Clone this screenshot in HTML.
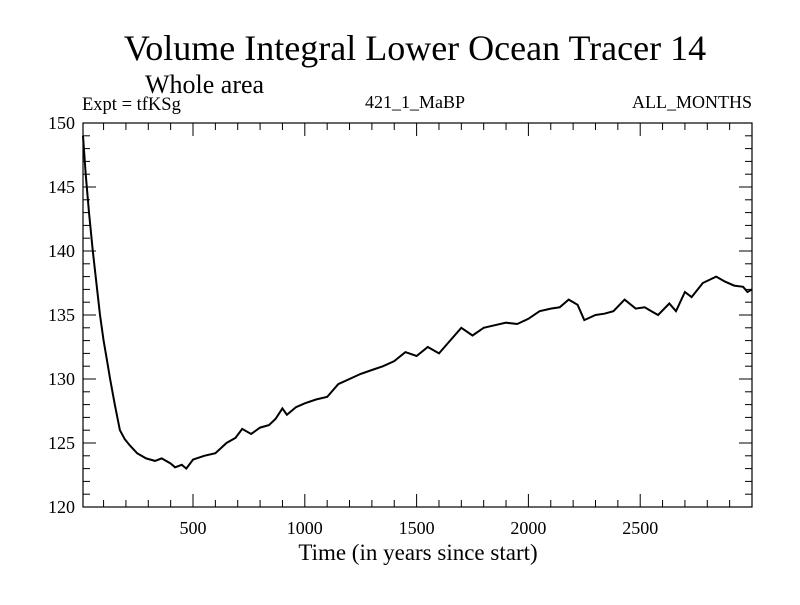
<!DOCTYPE html>
<html><head><meta charset="utf-8"><style>
body{margin:0;background:#fff}
svg text{font-family:"Liberation Serif",serif;fill:#000}
</style></head><body>
<svg id="chart" width="800" height="600">
<text x="415" y="60" font-size="36" text-anchor="middle">Volume Integral Lower Ocean Tracer 14</text>
<text x="145" y="93" font-size="26">Whole area</text>
<text x="82" y="110" font-size="18.5">Expt = tfKSg</text>
<text x="415" y="108" font-size="18" text-anchor="middle">421_1_MaBP</text>
<text x="752" y="108" font-size="18" text-anchor="end">ALL_MONTHS</text>
<text x="418" y="560" font-size="23" text-anchor="middle">Time (in years since start)</text>
<g id="axes"></g>
<rect x="83" y="123" width="669" height="384" fill="none" stroke="#000" stroke-width="1.2"/>
<path id="line" fill="none" stroke="#000" stroke-width="2"/>
</svg>
<script>
const years=[8,20,35,52,68,84,100,115,129,150,173,195,218,250,290,330,360,400,420,450,470,500,550,600,650,690,720,760,800,840,870,900,920,960,1000,1050,1100,1150,1200,1250,1300,1350,1400,1450,1500,1550,1600,1650,1700,1750,1800,1850,1900,1950,2000,2050,2100,2140,2180,2220,2250,2300,2340,2380,2430,2480,2520,2550,2580,2630,2660,2700,2730,2780,2840,2880,2920,2960,2980,3000];
const values=[149,146,143,140,137.5,135,133,131.5,130,128,126,125.3,124.8,124.2,123.8,123.6,123.8,123.4,123.1,123.3,123.0,123.7,124,124.2,125,125.4,126.1,125.7,126.2,126.4,126.9,127.7,127.2,127.8,128.1,128.4,128.6,129.6,130,130.4,130.7,131,131.4,132.1,131.8,132.5,132,133,134,133.4,134,134.2,134.4,134.3,134.7,135.3,135.5,135.6,136.2,135.8,134.6,135,135.1,135.3,136.2,135.5,135.6,135.3,135,135.9,135.3,136.8,136.4,137.5,138,137.6,137.3,137.2,136.8,137];
const xTicks=[500,1000,1500,2000,2500];
const yTicks=[120,125,130,135,140,145,150];
const X0=8,X1=3000,Y0=120,Y1=150,L=83,R=752,T=123,B=507;
const sx=v=>L+(v-X0)/(X1-X0)*(R-L);
const sy=v=>B-(v-Y0)/(Y1-Y0)*(B-T);
const ns="http://www.w3.org/2000/svg",g=document.getElementById('axes');
function ln(x1,y1,x2,y2,nm){const e=document.createElementNS(ns,'line');e.setAttribute('x1',x1);e.setAttribute('y1',y1);e.setAttribute('x2',x2);e.setAttribute('y2',y2);e.setAttribute('stroke','#000');


g.appendChild(e);}
function tx(x,y,s,a,nm){const e=document.createElementNS(ns,'text');e.setAttribute('x',x);e.setAttribute('y',y);e.setAttribute('font-size','18');e.setAttribute('text-anchor',a);e.textContent=s;


g.appendChild(e);}
for(let v=100;v<=3000;v+=100){const x=sx(v),len=v%500?7:13;ln(x,B,x,B-len,'x-tick');ln(x,T,x,T+len,'x-tick-top');}
for(let v=121;v<150;v++){const y=sy(v),len=v%5?7:13;ln(L,y,L+len,y,'y-tick');ln(R,y,R-len,y,'y-tick-right');}
xTicks.forEach(v=>tx(sx(v),534,v,'middle','x-tick-label'));
yTicks.forEach(v=>tx(L-8,sy(v)+6,v,'end','y-tick-label'));
document.getElementById('line').setAttribute('d',years.map((y,i)=>(i?'L':'M')+sx(y).toFixed(1)+','+sy(values[i]).toFixed(1)).join(''));
</script>
</body></html>
